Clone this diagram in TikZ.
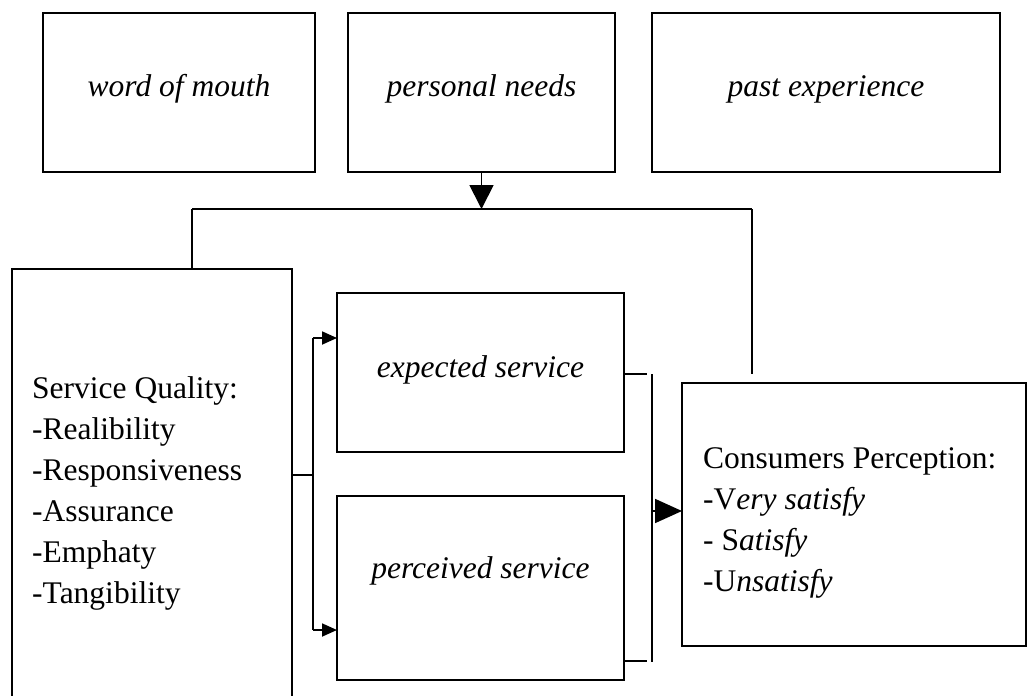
\documentclass[tikz,border=0pt]{standalone}
\usepackage{fontspec}
\setmainfont{Liberation Serif}
\usetikzlibrary{arrows.meta}
\tikzset{
  box/.style={draw, line width=1.8pt, rectangle, anchor=north west, inner sep=0pt, outer sep=0pt},
  wire/.style={line width=1.8pt},
  bigtip/.style={wire, -{Triangle[length=24pt,width=24pt]}},
  smalltip/.style={wire, -{Triangle[length=15pt,width=13pt]}},
  sidetip/.style={wire, -{Triangle[length=27pt,width=24pt]}},
  txt/.style={font=\fontsize{31.5}{41}\selectfont},
  itxt/.style={font=\fontsize{31.5}{41}\selectfont\itshape},
}
\begin{document}
\begin{tikzpicture}[x=1pt,y=-1pt]
\clip (0,0) rectangle (1028,696);
\fill[white] (0,0) rectangle (1028,696);
% top boxes
\node[box, itxt, minimum width=272pt, minimum height=159pt, text height=20pt, text depth=13pt] (wom) at (43,13) {word of mouth};
\node[box, itxt, minimum width=267pt, minimum height=159pt, text height=20pt, text depth=13pt] (pn) at (348,13) {personal needs};
\node[box, itxt, minimum width=348pt, minimum height=159pt, text height=20pt, text depth=13pt] (pe) at (652,13) {past experience};
% service quality box (bottom edge beyond the page)
\node[box, minimum width=280pt, minimum height=435pt] (sq) at (12,269) {};
\node[txt, anchor=base west, align=left, inner sep=0pt] (sqtext) at (32,603) {Service Quality:\\-Realibility\\-Responsiveness\\-Assurance\\-Emphaty\\-Tangibility};
% middle boxes
\node[box, itxt, minimum width=287pt, minimum height=159pt, text height=21pt, text depth=12pt] (es) at (337,293) {expected service};
\node[box, itxt, minimum width=287pt, minimum height=184pt, text height=4pt, text depth=24pt] (ps) at (337,496) {perceived service};
% consumers box
\node[box, minimum width=344pt, minimum height=263pt] (cp) at (682,383) {};
\node[txt, anchor=base west, align=left, inner sep=0pt] (cptext) at (703,591) {Consumers Perception:\\-V\textit{ery satisfy}\\- S\textit{atisfy}\\-U\textit{nsatisfy}};
% coordinates
\coordinate (hl) at (192,209);
\coordinate (hr) at (752,209);
\coordinate (hm) at (481.5,209);
\coordinate (vr) at (752,374);
\coordinate (fj) at (313,475);
\coordinate (ft) at (313,338);
\coordinate (fb) at (313,630);
\coordinate (et) at (647,374);
\coordinate (pt) at (647,661);
\coordinate (bt) at (652,374);
\coordinate (bb) at (652,662);
\coordinate (bm) at (652,511);
% connectors
\draw[bigtip] (pn.south) -- (hm);
\draw[wire] (hl) -- (hr);
\draw[wire] (hl) -- (sq.north -| hl);
\draw[wire] (hr) -- (vr);
\draw[wire] (sq.east |- fj) -- (fj);
\draw[wire] (ft) -- (fb);
\draw[smalltip] (ft) -- (es.west |- ft);
\draw[smalltip] (fb) -- (ps.west |- fb);
\draw[wire] (es.east |- et) -- (et);
\draw[wire] (ps.east |- pt) -- (pt);
\draw[wire] (bt) -- (bb);
\draw[sidetip] (bm) -- (cp.west |- bm);
\end{tikzpicture}
\end{document}
